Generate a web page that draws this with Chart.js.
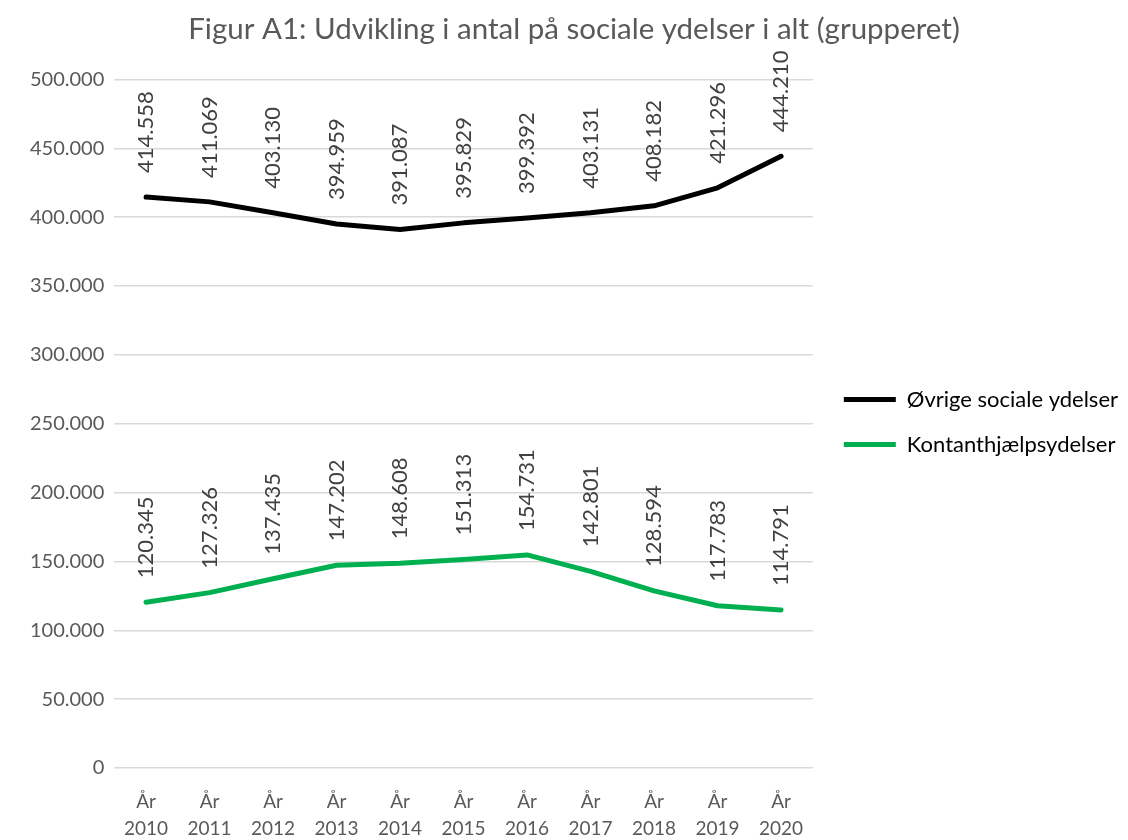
<!DOCTYPE html>
<html><head><meta charset="utf-8">
<script src="https://cdn.jsdelivr.net/npm/chart.js@4"></script>
<style>html,body{margin:0;padding:0;background:#fff}#wrap{width:1128px;height:840px}</style>
</head><body><div id="wrap"><canvas id="c" width="1128" height="840"></canvas></div>
<script>
const years = ["2010","2011","2012","2013","2014","2015","2016","2017","2018","2019","2020"];
const categories = years.map(y => ["År", y]);
const oevrige = [414558,411069,403130,394959,391087,395829,399392,403131,408182,421296,444210];
const kontant = [120345,127326,137435,147202,148608,151313,154731,142801,128594,117783,114791];
const seriesNames = ["Øvrige sociale ydelser","Kontanthjælpsydelser"];
const yTicks = [0,50000,100000,150000,200000,250000,300000,350000,400000,450000,500000];
const titleText = "Figur A1: Udvikling i antal på sociale ydelser i alt (grupperet)";

function fmtDot(v){ return String(v).replace(/\B(?=(\d{3})+(?!\d))/g, "."); }

const FONT = "Lato, 'Open Sans', sans-serif";
const labelPlugin = {
  id: 'vlabels',
  afterDatasetsDraw(chart){
    const ctx = chart.ctx;
    chart.data.datasets.forEach((ds, i) => {
      const meta = chart.getDatasetMeta(i);
      meta.data.forEach((pt, j) => {
        ctx.save();
        ctx.translate(pt.x, pt.y - 24);
        ctx.rotate(-Math.PI/2);
        ctx.font = "22px " + FONT;
        ctx.fillStyle = "#404040";
        ctx.textAlign = "left";
        ctx.textBaseline = "middle";
        ctx.fillText(fmtDot(ds.data[j]), 0, 0);
        ctx.restore();
      });
    });
  }
};

new Chart(document.getElementById('c'), {
  type: 'line',
  data: {
    labels: categories,
    datasets: [
      {label: seriesNames[0], data: oevrige, borderColor: "#000000", backgroundColor: "#000000", borderWidth: 5, pointRadius: 0, tension: 0, borderCapStyle: 'round', borderJoinStyle: 'round'},
      {label: seriesNames[1], data: kontant, borderColor: "#00b050", backgroundColor: "#00b050", borderWidth: 5, pointRadius: 0, tension: 0, borderCapStyle: 'round', borderJoinStyle: 'round'}
    ]
  },
  options: {
    responsive: false,
    animation: false,
    layout: {padding: {left: 20, right: 0, top: 4, bottom: 0}},
    plugins: {
      title: {display: true, text: titleText, color: "#595959", font: {family: FONT, size: 29.5, weight: 'normal'}, padding: {top: 8, bottom: 32}},
      legend: {
        position: 'right',
        align: 'center',
        maxWidth: 360,
        labels: {color: "#595959", font: {family: FONT, size: 22}, boxWidth: 52, boxHeight: 5, padding: 23,
          generateLabels(chart){
            return chart.data.datasets.map((d,i)=>({text: d.label, fillStyle: d.borderColor, strokeStyle: d.borderColor, lineWidth: 0, datasetIndex: i}));
          }}
      },
      tooltip: {enabled: false}
    },
    scales: {
      x: {
        offset: true,
        grid: {display: false},
        border: {display: false},
        ticks: {color: "#595959", font: {family: FONT, size: 19, lineHeight: 1.45}, maxRotation: 0, padding: 12},
        afterFit(axis){ axis.height = 72; }
      },
      y: {
        min: 0, max: 500000,
        afterBuildTicks(axis){ axis.ticks = yTicks.map(v => ({value: v})); },
        grid: {color: "#d9d9d9", lineWidth: 1.5, drawTicks: false},
        border: {display: false},
        ticks: {color: "#595959", font: {family: FONT, size: 20}, padding: 10, callback: v => fmtDot(v)}
      },
      spacer: {
        type: 'linear', position: 'right', display: true,
        grid: {display: false}, border: {display: false}, ticks: {display: false},
        afterFit(axis){ axis.width = 8; }
      }
    }
  },
  plugins: [labelPlugin]
});
</script></body></html>
